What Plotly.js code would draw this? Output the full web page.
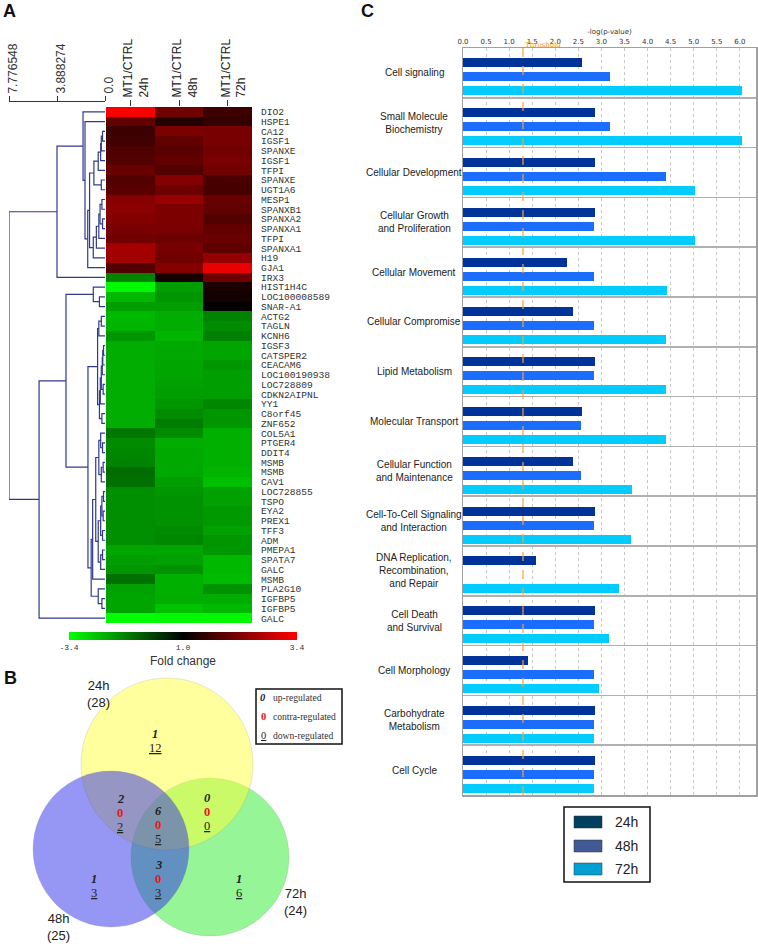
<!DOCTYPE html>
<html lang="en">
<head>
<meta charset="utf-8">
<script src="https://cdn.plot.ly/plotly-3.0.1.min.js"></script>
<title>MT1 expression figure</title>
<style>body{margin:0;background:#fff}</style>
</head>
<body>
<div id="fig"></div>
<script>
// ---- panel A data ----
var genes = ['DIO2','HSPE1','CA12','IGSF1','SPANXE','IGSF1','TFPI','SPANXE','UGT1A6','MESP1','SPANXB1','SPANXA2','SPANXA1','TFPI','SPANXA1','H19','GJA1','IRX3',
  'HIST1H4C','LOC100008589','SNAR-A1','ACTG2','TAGLN','KCNH6','IGSF3','CATSPER2','CEACAM6','LOC100190938','LOC728809','CDKN2AIPNL','YY1','C8orf45','ZNF652',
  'COL5A1','PTGER4','DDIT4','MSMB','MSMB','CAV1','LOC728855','TSPO','EYA2','PREX1','TFF3','ADM','PMEPA1','SPATA7','GALC','MSMB','PLA2G10','IGFBP5','IGFBP5','GALC'];
var columns = ['MT1/CTRL<br>24h','MT1/CTRL<br>48h','MT1/CTRL<br>72h'];
var fc24 = [3.3,1.3,0.8,0.85,1.05,1.1,1.4,1.1,1.2,1.8,1.85,1.75,1.6,1.5,2.2,2.15,1.1,-1.75,
  -3.3,-2.45,-2.1,-2.45,-2.4,-2.0,-2.3,-2.3,-2.3,-2.3,-2.3,-2.3,-2.3,-2.3,-2.3,
  -1.6,-1.85,-1.8,-1.75,-1.45,-1.5,-1.9,-1.9,-1.9,-1.9,-1.9,-1.9,-2.2,-2.1,-2.0,-1.5,-2.15,-2.2,-2.2,-3.4];
var fc48 = [1.5,0.45,1.65,1.3,1.2,1.3,1.1,1.75,1.45,2.0,1.65,1.65,1.6,1.45,1.6,1.5,1.8,0.3,
  -2.1,-2.0,-2.1,-2.3,-2.3,-2.4,-2.25,-2.25,-2.2,-2.2,-2.15,-2.1,-2.0,-1.85,-1.65,
  -1.85,-2.3,-2.25,-2.25,-2.25,-2.1,-2.0,-1.95,-1.95,-1.95,-1.85,-1.8,-2.2,-2.15,-1.95,-2.35,-2.35,-2.3,-2.6,-3.3];
var fc72 = [0.8,0.7,1.6,1.6,1.5,1.6,1.5,1.0,0.95,1.4,1.3,1.1,1.3,1.4,1.25,2.0,3.1,1.45,
  0.35,0.25,0.05,-1.75,-1.85,-1.7,-2.2,-2.2,-2.0,-2.1,-2.1,-2.1,-1.8,-2.0,-2.0,
  -2.35,-2.35,-2.35,-2.35,-2.4,-2.55,-2.15,-2.15,-2.05,-2.05,-2.15,-2.0,-2.0,-2.45,-2.45,-2.5,-1.95,-2.3,-2.45,-3.3];
// dendrogram merges: [left, right, height]; numbers are rows, 'nK' is merge K
var merges = [
  [2,3,0.2],['n0',4,0.3],['n1',5,0.35],['n2',6,0.55],[7,8,0.3],['n3','n4',0.9],
  [9,10,0.25],[11,12,0.2],['n6','n7',0.4],['n8',13,0.5],['n9',14,0.7],['n10',15,0.95],
  ['n5','n11',1.25],['n12',16,1.4],[1,'n13',1.62],[0,'n14',1.78],['n15',17,3.888274],
  [19,20,0.45],[18,'n17',0.95],[21,22,0.3],['n19',23,0.5],[24,25,0.12],['n21',26,0.18],
  ['n22',27,0.22],[28,29,0.15],['n23','n24',0.3],['n25',30,0.38],[31,32,0.25],['n26','n27',0.45],
  ['n20','n28',0.6],[34,35,0.2],[33,'n30',0.35],[36,37,0.15],['n32',38,0.3],['n31','n33',0.5],
  [39,40,0.12],[41,42,0.15],['n35','n36',0.25],[43,44,0.2],['n37','n38',0.35],[45,46,0.2],
  ['n40',47,0.35],['n39','n41',0.55],['n34','n42',0.75],['n43',48,1.0],[50,51,0.25],
  [49,'n45',0.55],['n44','n46',1.12],['n29','n47',1.38],['n18','n48',3.16],['n49',52,5.34],
  ['n16','n50',7.776548]];
var dendroTicks = [7.776548, 3.888274, 0];

// ---- panel B data ----
var vennSets = ['24h','48h','72h'];
var vennTotals = [28, 25, 24];
var vennRegions = ['24h','24h&48h','all','24h&72h','48h&72h','48h','72h'];
var vennUp = [1, 2, 6, 0, 3, 1, 1];
var vennContra = [null, 0, 0, 0, 0, null, null];
var vennDown = [12, 2, 5, 0, 3, 3, 6];

// ---- panel C data ----
var categories = ['Cell signaling','Small Molecule<br>Biochemistry','Cellular Development','Cellular Growth<br>and Proliferation',
  'Cellular Movement','Cellular Compromise','Lipid Metabolism','Molecular Transport','Cellular Function<br>and Maintenance',
  'Cell-To-Cell Signaling<br>and Interaction','DNA Replication,<br>Recombination,<br>and Repair','Cell Death<br>and Survival',
  'Cell Morphology','Carbohydrate<br>Metabolism','Cell Cycle'];
var p24 = [2.57,2.87,2.87,2.87,2.26,2.39,2.87,2.57,2.39,2.87,1.59,2.87,1.41,2.87,2.87];
var p48 = [3.18,3.18,4.39,2.84,2.84,2.84,2.84,2.55,2.55,2.84,null,2.84,2.84,2.84,2.84];
var p72 = [6.05,6.05,5.02,5.02,4.42,4.39,4.39,4.39,3.66,3.64,3.39,3.17,2.95,2.84,2.84];
var threshold = 1.3;
var groupNames = ['24h','48h','72h'];

// ---- layout helpers (pixel -> paper) ----
var W = 758, H = 944;
function px(v){ return v / W; }
function py(v){ return 1 - v / H; }
var heatTop = 107, heatBot = 623;

// dendrogram lines from the merge list
var nodeY = {}, nodeH = {};
function getY(k){ return typeof k === 'number' ? k : nodeY[k]; }
function getH(k){ return typeof k === 'number' ? 0 : nodeH[k]; }
var dx = [], dy = [];
merges.forEach(function(m, i){
  var a = m[0], b = m[1], h = m[2];
  dx.push(getH(a), h, h, getH(b), null);
  dy.push(getY(a), getY(a), getY(b), getY(b), null);
  nodeY['n'+i] = (getY(a) + getY(b)) / 2;
  nodeH['n'+i] = h;
});

var rows = genes.map(function(g, i){ return i; });
var z = rows.map(function(i){ return [fc24[i], fc48[i], fc72[i]]; });

var traces = [];
traces.push({type:'scatter', mode:'lines', x:dx, y:dy, xaxis:'x', yaxis:'y',
  line:{color:'#2f3a8f', width:1.2}, hoverinfo:'skip', showlegend:false});
traces.push({type:'heatmap', x:[0,1,2], y:rows, z:z, xaxis:'x2', yaxis:'y2',
  zmin:-3.4, zmax:3.4,
  colorscale:[[0,'rgb(0,255,0)'],[0.5,'rgb(0,0,0)'],[1,'rgb(255,0,0)']],
  colorbar:{orientation:'h', x:px(69), xanchor:'left', y:py(632), yanchor:'top',
    len:228, lenmode:'pixels', thickness:8, thicknessmode:'pixels', xpad:0, ypad:0,
    outlinewidth:0, tickvals:[-3.4,0,3.4], ticktext:['-3.4','1.0','3.4'], ticks:'',
    tickfont:{family:'Liberation Mono', size:8, color:'#333'},
    title:{text:'Fold change', side:'bottom', font:{family:'Liberation Sans', size:12, color:'#333'}}}
});

var barColors = ['#003399','#1a6dff','#00ccff'];
var barSeries = [p24, p48, p72];
var offsets = [-0.29, -0.01, 0.27];
barSeries.forEach(function(s, k){
  traces.push({type:'bar', orientation:'h', x:s, y:categories.map(function(c, i){ return i; }),
    xaxis:'x4', yaxis:'y4', width:0.18, offset:offsets[k], name:groupNames[k],
    marker:{color:barColors[k]}, showlegend:false});
});

var shapes = [], ann = [];
// Venn circles (pixel geometry in x3/y3 units), drawn green, yellow, blue
var vennGeom = {'24h':[167,764,86,'rgba(255,255,60,0.5)'], '48h':[111,849,78,'rgba(45,45,235,0.5)'], '72h':[210,857,79,'rgba(45,235,45,0.5)']};
['72h','24h','48h'].forEach(function(s){
  var g = vennGeom[s];
  shapes.push({type:'circle', xref:'x3', yref:'y3', x0:g[0]-g[2], x1:g[0]+g[2], y0:g[1]-g[2], y1:g[1]+g[2],
    fillcolor:g[3], line:{width:0.6, color:'rgba(120,120,120,0.3)'}, layer:'below'});
});
var setLabelPos = [[98,694],[58,927],[295,902]];
vennSets.forEach(function(s, i){
  ann.push({xref:'x3', yref:'y3', x:setLabelPos[i][0], y:setLabelPos[i][1], text:s+'<br>('+vennTotals[i]+')',
    showarrow:false, font:{family:'Liberation Sans', size:13, color:'#222'}, align:'center'});
});
var regionPos = [[155,741],[120,813],[158,825],[207,812],[158,879],[94,886],[239,886]];
var lineStep = 13.6;
vennRegions.forEach(function(r, i){
  var lines = ['<b><i>'+vennUp[i]+'</i></b>'];
  if (vennContra[i] !== null) lines.push('<b><span style="color:#e8141b">'+vennContra[i]+'</span></b>');
  lines.push('<u>'+vennDown[i]+'</u>');
  lines.forEach(function(t, j){
    ann.push({xref:'x3', yref:'y3', x:regionPos[i][0], y:regionPos[i][1] + (j - (lines.length-1)/2)*lineStep,
      text:t, showarrow:false, xanchor:'center', yanchor:'middle',
      font:{family:'Liberation Serif', size:12.5, color:'#222'}});
  });
});
// Venn key box
shapes.push({type:'rect', xref:'x3', yref:'y3', x0:256, x1:342, y0:689, y1:744, line:{color:'#111', width:1.5}, fillcolor:'white'});
var keyText = ['up-regulated','contra-regulated','down-regulated'];
var keySym = ['<b><i>0</i></b>','<b><span style="color:#e8141b">0</span></b>','<u>0</u>'];
[697,716,735].forEach(function(yy, i){
  ann.push({xref:'x3', yref:'y3', x:263, y:yy, text:keySym[i], showarrow:false, yanchor:'middle',
    font:{family:'Liberation Serif', size:10.5, color:'#222'}});
  ann.push({xref:'x3', yref:'y3', x:271, y:yy, xanchor:'left', yanchor:'middle', text:keyText[i], showarrow:false,
    font:{family:'Liberation Serif', size:9.6, color:'#333'}});
});

// panel C category labels, threshold, key
categories.forEach(function(c, i){
  ann.push({xref:'paper', yref:'y4', x:px(414), y:i, text:c, showarrow:false, align:'center',
    xanchor:'center', yanchor:'middle', font:{family:'Liberation Sans', size:10, color:'#222'}});
});
shapes.push({type:'line', xref:'x4', yref:'paper', x0:threshold, x1:threshold, y0:py(795), y1:py(41),
  line:{color:'#f5a040', width:1.2, dash:'dash'}});
ann.push({xref:'x4', yref:'paper', x:threshold, y:py(45), xanchor:'left', yanchor:'middle', text:'Threshold', showarrow:false,
  font:{family:'DejaVu Serif', size:7, color:'#f0962a'}});
shapes.push({type:'rect', xref:'paper', yref:'paper', x0:px(564), x1:px(650), y0:py(807), y1:py(882), line:{color:'#111', width:1.5}});
var keyColors = ['#003f5f','#415a96','#00a0d2'];
[822,846,869].forEach(function(yy, i){
  shapes.push({type:'rect', xref:'paper', yref:'paper', x0:px(574), x1:px(602), y0:py(yy-6), y1:py(yy+6),
    fillcolor:keyColors[i], line:{color:'#333', width:0.5}});
  ann.push({xref:'paper', yref:'paper', x:px(613), y:py(yy), xanchor:'left', yanchor:'middle', text:groupNames[i], showarrow:false,
    font:{family:'Liberation Sans', size:14, color:'#222'}});
});

// panel letters
[['A',9,11],['B',10,678],['C',367,11]].forEach(function(l){
  ann.push({xref:'paper', yref:'paper', x:px(l[1]), y:py(l[2]), text:'<b>'+l[0]+'</b>', showarrow:false,
    xanchor:'center', yanchor:'middle', font:{family:'Liberation Sans', size:18, color:'#111'}});
});

var layout = {
  width:W, height:H, margin:{l:0,r:0,t:0,b:0}, showlegend:false,
  paper_bgcolor:'white', plot_bgcolor:'white', font:{family:'Liberation Sans'},
  xaxis:{domain:[px(9),px(105)], range:[7.776548,0], side:'top', anchor:'free', position:py(101),
    tickvals:dendroTicks, ticktext:['7.776548','3.888274','0.0'], ticks:'outside', ticklen:5, tickcolor:'#333',
    showline:true, linecolor:'#333', linewidth:1, tickangle:-90, showgrid:false, zeroline:false,
    ticklabelshift:-4, ticklabeloverflow:'allow',
    tickfont:{family:'Liberation Sans', size:12, color:'#333'}},
  yaxis:{domain:[py(heatBot),py(heatTop)], range:[52.5,-0.5], visible:false},
  xaxis2:{domain:[px(106),px(252)], range:[-0.5,2.5], anchor:'y2', side:'top', tickvals:[0,1,2], ticktext:columns,
    ticks:'outside', ticklen:6, tickcolor:'#333', tickangle:-90, showgrid:false, zeroline:false, ticklabelshift:6,
    tickfont:{family:'Liberation Sans', size:12, color:'#222'}},
  yaxis2:{domain:[py(heatBot),py(heatTop)], range:[52.5,-0.5], anchor:'x2', side:'right', tickvals:rows, ticktext:genes,
    ticks:'', showgrid:false, zeroline:false, ticklabelstandoff:8,
    tickfont:{family:'Liberation Mono', size:9.6, color:'#333'}},
  xaxis3:{domain:[0,px(370)], range:[0,370], anchor:'y3', visible:false},
  yaxis3:{domain:[0,py(660)], range:[944,660], anchor:'x3', visible:false},
  xaxis4:{domain:[px(463),px(756)], range:[0,6.35], anchor:'y4', side:'top', tick0:0, dtick:0.5, tickformat:'.1f',
    ticks:'', showgrid:true, gridcolor:'#c8c8c8', griddash:'dot', gridwidth:1, zeroline:false,
    showline:true, mirror:true, linecolor:'#a0a0a0', linewidth:1.5,
    tickfont:{family:'DejaVu Sans', size:7, color:'#333'},
    title:{text:'-log(p-value)', standoff:2, font:{family:'DejaVu Sans', size:7, color:'#333'}}},
  yaxis4:{domain:[py(795),py(48)], range:[14.5,-0.5], anchor:'x4',
    tickvals:categories.map(function(c, i){ return i + 0.5; }), showticklabels:false, ticks:'',
    showgrid:true, gridcolor:'#b0b0b0', gridwidth:1.5, zeroline:false,
    showline:true, mirror:true, linecolor:'#a0a0a0', linewidth:1.5},
  bargap:0, shapes:shapes, annotations:ann
};

Plotly.newPlot('fig', traces, layout, {staticPlot:true});
</script>
</body>
</html>
